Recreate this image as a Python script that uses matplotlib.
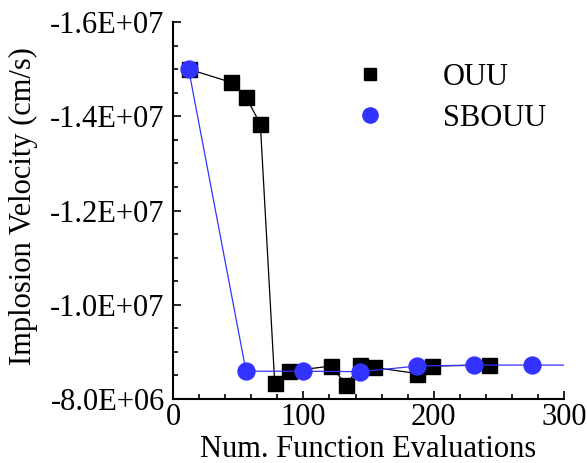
import matplotlib
matplotlib.use('Agg')
import matplotlib.pyplot as plt
from matplotlib.lines import Line2D
from matplotlib.ticker import MultipleLocator, FuncFormatter

# OUU (black squares) : evaluations vs implosion velocity
ouu_x = [12, 44.5, 56, 67, 78, 89, 121.5, 133, 143.5, 154, 187.5, 198.5, 242.5]
ouu_y = [-1.50e7, -1.472e7, -1.441e7, -1.383e7, -8.35e6, -8.59e6, -8.70e6,
         -8.29e6, -8.73e6, -8.67e6, -8.54e6, -8.70e6, -8.72e6]

# SBOUU (blue circles); last point lies past the x range
sbouu_x = [12, 56, 99.5, 143.5, 187.5, 231, 275.5, 320]
sbouu_y = [-1.50e7, -8.59e6, -8.59e6, -8.58e6, -8.70e6, -8.72e6, -8.72e6, -8.72e6]

plt.rcParams['font.family'] = ['Liberation Serif', 'DejaVu Serif']
plt.rcParams['font.size'] = 22

blue = '#3333ff'

fig = plt.figure(figsize=(5.87, 4.63), dpi=100)
ax = fig.add_axes([0.2947, 0.1382, 0.6664, 0.8143])

ax.plot(ouu_x, ouu_y, color='k', lw=0.9, marker='s', ms=10.8, mec='k', mfc='k', zorder=3)
ax.plot(sbouu_x, sbouu_y, color=blue, lw=0.9, marker='o', ms=12.2, mec=blue, mfc=blue, zorder=4)

ax.set_xlim(0, 300)
ax.set_ylim(-8.0e6, -1.6e7)
ax.xaxis.set_major_locator(MultipleLocator(100))
ax.xaxis.set_minor_locator(MultipleLocator(20))
ax.yaxis.set_major_locator(MultipleLocator(2e6))
ax.yaxis.set_minor_locator(MultipleLocator(5e5))
ax.yaxis.set_major_formatter(FuncFormatter(lambda v, p: '{:.1E}'.format(v)))

for s in ['top', 'right']:
    ax.spines[s].set_visible(False)
for s in ['left', 'bottom']:
    ax.spines[s].set_linewidth(1.5)

ax.tick_params(which='both', direction='in', width=1.2)
ax.tick_params(which='major', length=6)
ax.tick_params(which='minor', length=3.5)
ax.tick_params(axis='y', pad=6)
ax.tick_params(axis='x', pad=3)

ax.set_xlabel('Num. Function Evaluations')
ax.set_ylabel('Implosion Velocity (cm/s)')
ax.xaxis.set_label_coords(0.5, -0.095)
ax.yaxis.set_label_coords(-0.345, 0.513)

handles = [Line2D([], [], ls='none', marker='s', ms=8, color='k'),
           Line2D([], [], ls='none', marker='o', ms=11, color=blue)]
fig.legend(handles, ['OUU', 'SBOUU'], loc='upper left', bbox_to_anchor=(0.605, 0.865),
           frameon=False, handlelength=1.0, handletextpad=1.87, labelspacing=0.4,
           borderpad=0, borderaxespad=0)

plt.savefig('out.png', dpi=100)
